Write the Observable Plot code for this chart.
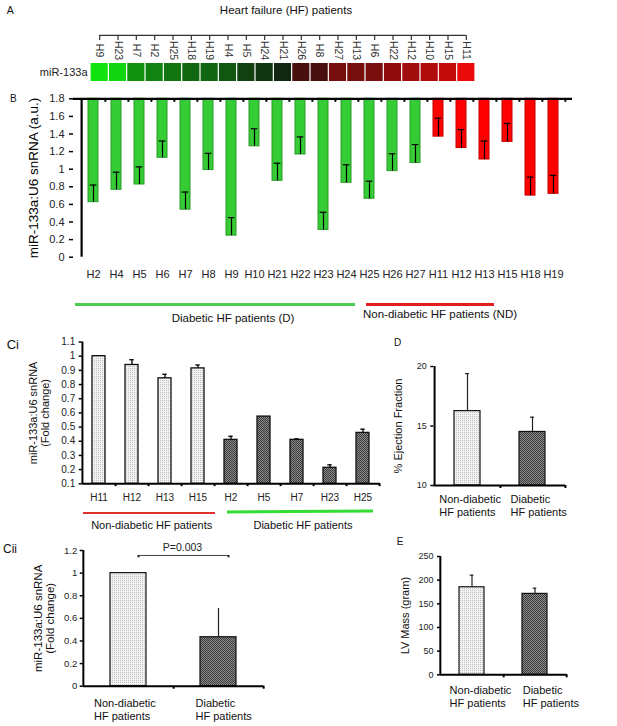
<!DOCTYPE html>
<html><head><meta charset="utf-8">
<script src="https://cdn.jsdelivr.net/npm/d3@7"></script>
<script src="https://cdn.jsdelivr.net/npm/@observablehq/plot@0.6"></script>
<style>
body{margin:0;background:#fff;}
#wrap{position:relative;width:617px;height:726px;overflow:hidden;font-family:'Liberation Sans',Arial,sans-serif;color:#111;background:#fff;}
.t{position:absolute;line-height:1;white-space:nowrap;}
.ln{position:absolute;}
</style></head><body>
<svg width="0" height="0" style="position:absolute">
<defs>
<pattern id="patLight" width="2" height="2" patternUnits="userSpaceOnUse"><rect width="2" height="2" fill="#f2f2f2"/><rect width="1" height="1" fill="#c2c2c2"/></pattern>
<pattern id="patDark" width="2" height="2" patternUnits="userSpaceOnUse"><rect width="2" height="2" fill="#8c8c8c"/><rect width="1" height="1" fill="#3a3a3a"/><rect x="1" y="1" width="1" height="1" fill="#3a3a3a"/></pattern>
</defs></svg>
<div id="wrap"></div>
<script>
// ---------- DATA ----------
const heatTitle = "Heart failure (HF) patients";
const heatRowLabel = "miR-133a";
const heatIds = ["H9","H23","H7","H2","H25","H18","H19","H4","H5","H24","H21","H26","H8","H27","H13","H6","H22","H12","H10","H15","H11"];
const heatValues = [-0.94,-0.88,-0.58,-0.51,-0.45,-0.39,-0.38,-0.31,-0.21,-0.16,-0.1,0.23,0.23,0.42,0.43,0.44,0.53,0.6,0.67,0.75,0.91];

const bTitle = "miR-133a:U6 snRNA (a.u.)";
const bIds = ["H2","H4","H5","H6","H7","H8","H9","H10","H21","H22","H23","H24","H25","H26","H27","H11","H12","H13","H15","H18","H19"];
const bValues = [0.625,0.766,0.826,1.13,0.54,0.99,0.245,1.26,0.868,1.167,0.31,0.845,0.664,0.978,1.07,1.37,1.24,1.11,1.31,0.70,0.72];
const bErrors = [0.195,0.2,0.2,0.19,0.2,0.19,0.205,0.2,0.2,0.2,0.2,0.205,0.2,0.197,0.21,0.21,0.21,0.21,0.21,0.21,0.21];
const bGroups = ["D","D","D","D","D","D","D","D","D","D","D","D","D","D","D","ND","ND","ND","ND","ND","ND"];
const bTicks = [0,0.2,0.4,0.6,0.8,1,1.2,1.4,1.6,1.8];
const bGroupText = ["Diabetic HF patients (D)", "Non-diabetic HF patients (ND)"];

const cTitle = "miR-133a:U6 snRNA\n(Fold change)";
const ciIds = ["H11","H12","H13","H15","H2","H5","H7","H23","H25"];
const ciValues = [1.0,0.938,0.844,0.914,0.41,0.574,0.41,0.213,0.459];
const ciErrors = [0,0.037,0.028,0.024,0.025,0,0.007,0.021,0.026];
const ciGroups = ["ND","ND","ND","ND","D","D","D","D","D"];
const ciTicks = [0.1,0.2,0.3,0.4,0.5,0.6,0.7,0.8,0.9,1,1.1];
const ciGroupText = ["Non-diabetic HF patients", "Diabetic HF patients"];

const groupKeys = ["ND","D"];
const groupLabels = ["Non-diabetic\nHF patients", "Diabetic\nHF patients"];

const ciiValues = [1.0, 0.433];
const ciiErrors = [0, 0.254];
const ciiTicks = [0,0.2,0.4,0.6,0.8,1,1.2];
const pLabel = "P=0.003";

const efTitle = "% Ejection Fraction";
const efValues = [16.25, 14.5];
const efErrors = [3.15, 1.24];
const efTicks = [10,15,20];

const lvTitle = "LV Mass (gram)";
const lvValues = [185, 171];
const lvErrors = [25.5, 12];
const lvTicks = [0,50,100,150,200,250];

// ---------- HELPERS ----------
const wrap = document.getElementById("wrap");
const FONT = "'Liberation Sans', Arial, sans-serif";
const baseStyle = {fontFamily: FONT, background: "transparent", color: "#222", overflow: "visible"};
function place(svg, left, top) {
  svg.style.position = "absolute"; svg.style.left = left + "px"; svg.style.top = top + "px";
  wrap.appendChild(svg);
}
function txt(s, left, top, size, center) {
  const d = document.createElement("div"); d.className = "t"; d.textContent = s;
  d.style.left = left + "px"; d.style.top = top + "px"; d.style.fontSize = size + "px";
  if (center) d.style.transform = "translateX(-50%)";
  wrap.appendChild(d);
}
function hline(left, top, width, h, color, rot) {
  const d = document.createElement("div"); d.className = "ln";
  Object.assign(d.style, {left: left + "px", top: top + "px", width: width + "px", height: h + "px", background: color});
  if (rot) d.style.transform = `rotate(${rot}deg)`;
  wrap.appendChild(d);
}

// ---------- PANEL A : heatmap ----------
const heatData = heatIds.map((id, i) => ({id, i, v: heatValues[i]}));
place(Plot.plot({
  width: 617, height: 90, margin: 0,
  x: {domain: [0, heatIds.length], range: [90, 475], axis: null},
  y: {domain: [0, 1], range: [81, 63], axis: null},
  color: {type: "linear", domain: [-1, 0, 1], range: ["#10f010", "#111111", "#ff0a0a"]},
  style: baseStyle,
  marks: [
    Plot.rect(heatData, {x1: "i", x2: d => d.i + 1, y1: 0, y2: 1, fill: "v", insetLeft: 0.6, insetRight: 0.6}),
    Plot.text(heatData, {x: d => d.i + 0.5, y: 1.72, text: "id", rotate: 90, fontSize: 10.5, fill: "#333"}),
    Plot.ruleX(heatData, {x: d => d.i + 0.5, y1: 2.28, y2: 2.56, stroke: "#333", strokeWidth: 1.2}),
    Plot.ruleY([2.56], {x1: 0.5, x2: heatIds.length - 0.5, stroke: "#333", strokeWidth: 1.2}),
    Plot.text([heatRowLabel], {x: 0, y: 0.5, textAnchor: "end", dx: -3, fontSize: 11, fill: "#222"})
  ]
}), 0, 0);
txt("A", 6.7, 4.6, 10.5);
txt(heatTitle, 286, 4.5, 11.5, true);

// ---------- PANEL B ----------
const bCfg = {W: 617, H: 245, mL: 73, mR: 45, mT: 13.3, mB: 73.3};
const bStep = (bCfg.W - bCfg.mL - bCfg.mR) / bIds.length;
const bData = bIds.map((id, i) => ({id, v: bValues[i], e: bErrors[i], g: bGroups[i]}));
place(Plot.plot({
  width: bCfg.W, height: bCfg.H, marginLeft: bCfg.mL, marginRight: bCfg.mR, marginTop: bCfg.mT, marginBottom: bCfg.mB,
  x: {domain: bIds, paddingInner: 0.58, paddingOuter: 0.29},
  y: {domain: [0, 1.8]},
  style: baseStyle,
  marks: [
    Plot.barY(bData.filter(d => d.g === "D"), {x: "id", y1: 1.8, y2: "v", fill: "#35cc35", stroke: "#2a9a2a", strokeWidth: 1}),
    Plot.barY(bData.filter(d => d.g === "ND"), {x: "id", y1: 1.8, y2: "v", fill: "#ff0000", stroke: "#c40000", strokeWidth: 1}),
    Plot.ruleX(bData, {x: "id", y1: "v", y2: d => d.v + d.e, stroke: "#000", strokeWidth: 1.2}),
    Plot.tickY(bData, {x: "id", y: d => d.v + d.e, insetLeft: 1.7, insetRight: 1.7, stroke: "#000", strokeWidth: 1.2}),
    Plot.ruleY([1.8], {stroke: "#000", strokeWidth: 2.2}),
    Plot.ruleX(bIds, {x: d => d, dx: bStep / 2, y1: 1.8, y2: 1.76, stroke: "#000", strokeWidth: 2}),
    Plot.ruleX([bIds[0]], {x: d => d, dx: -bStep / 2, y1: 0, y2: 1.8, stroke: "#000", strokeWidth: 2.2}),
    Plot.axisY({ticks: bTicks, tickFormat: d => String(d), tickSize: 4, tickPadding: 5, fontSize: 11, label: null, stroke: "#000", strokeWidth: 1.5}),
    Plot.axisX({anchor: "bottom", tickSize: 0, tickPadding: 13, fontSize: 11, label: null}),
    Plot.text([bTitle], {frameAnchor: "left", textAnchor: "middle", lineAnchor: "middle", dx: -40, rotate: -90, fontSize: 13.5, fill: "#000"})
  ]
}), 0, 85);
txt("B", 10, 93.7, 10);
hline(75, 303, 280, 3, "#4ccc4c");
hline(366, 303, 128, 3, "#e02020");
txt(bGroupText[0], 233, 312.5, 11.5, true);
txt(bGroupText[1], 363, 308.5, 11.5);

// ---------- PANEL Ci ----------
const ciCfg = {W: 400, H: 200, mL: 81.7, mR: 20, mT: 11.5, mB: 46.7};
const ciStep = (ciCfg.W - ciCfg.mL - ciCfg.mR) / ciIds.length;
const ciData = ciIds.map((id, i) => ({id, v: ciValues[i], e: ciErrors[i], g: ciGroups[i]}));
place(Plot.plot({
  width: ciCfg.W, height: ciCfg.H, marginLeft: ciCfg.mL, marginRight: ciCfg.mR, marginTop: ciCfg.mT, marginBottom: ciCfg.mB,
  x: {domain: ciIds, paddingInner: 0.6, paddingOuter: 0.3},
  y: {domain: [0.1, 1.1]},
  style: baseStyle,
  marks: [
    Plot.barY(ciData.filter(d => d.g === "ND"), {x: "id", y1: 0.1, y2: "v", fill: "url(#patLight)", stroke: "#111", strokeWidth: 1.3}),
    Plot.barY(ciData.filter(d => d.g === "D"), {x: "id", y1: 0.1, y2: "v", fill: "url(#patDark)", stroke: "#111", strokeWidth: 1.3}),
    Plot.ruleX(ciData.filter(d => d.e > 0), {x: "id", y1: "v", y2: d => d.v + d.e, stroke: "#111", strokeWidth: 1.4}),
    Plot.tickY(ciData.filter(d => d.e > 0), {x: "id", y: d => d.v + d.e, insetLeft: 4.3, insetRight: 4.3, stroke: "#111", strokeWidth: 1.4}),
    Plot.ruleY([0.1], {stroke: "#000", strokeWidth: 2}),
    Plot.ruleX(ciIds, {x: d => d, dx: ciStep / 2, y1: 0.1, y2: 0.08, stroke: "#000", strokeWidth: 2}),
    Plot.ruleX([ciIds[0]], {x: d => d, dx: -ciStep / 2, y1: 0.1, y2: 1.1, stroke: "#000", strokeWidth: 2}),
    Plot.axisY({ticks: ciTicks, tickFormat: d => String(d), tickSize: 3, tickPadding: 4, fontSize: 10, label: null, stroke: "#000", strokeWidth: 1.5}),
    Plot.axisX({anchor: "bottom", tickSize: 0, tickPadding: 10.5, fontSize: 10, label: null}),
    Plot.text([cTitle], {frameAnchor: "left", textAnchor: "middle", lineAnchor: "middle", dx: -42.7, rotate: -90, fontSize: 11, lineHeight: 1.09, fill: "#111"})
  ]
}), 0, 330);
txt("Ci", 6.7, 338.3, 13);
hline(82.7, 511.5, 132.3, 2.5, "#e03030");
hline(226.7, 510.2, 146, 2.5, "#33dd33", -0.3);
txt(ciGroupText[0], 151.7, 519.5, 11, true);
txt(ciGroupText[1], 303, 519.5, 11, true);

// ---------- two-group panels ----------
function groupPanel(cfg) {
  const data = groupKeys.map((g, i) => ({g, v: cfg.values[i], e: cfg.errors[i]}));
  const step = (cfg.W - cfg.mL - cfg.mR) / groupKeys.length;
  const [y0, y1] = cfg.yDomain;
  const tickLen = (y1 - y0) * 3 / (cfg.H - cfg.mT - cfg.mB);
  const marks = [
    Plot.barY(data.filter(d => d.g === "ND"), {x: "g", y1: y0, y2: "v", fill: "url(#patLight)", stroke: "#111", strokeWidth: 1.2}),
    Plot.barY(data.filter(d => d.g === "D"), {x: "g", y1: y0, y2: "v", fill: "url(#patDark)", stroke: "#111", strokeWidth: 1.2}),
    Plot.ruleX(data.filter(d => d.e > 0), {x: "g", y1: "v", y2: d => d.v + d.e, stroke: "#222", strokeWidth: 1.2}),
    Plot.tickY(data.filter(d => d.e > 0), {x: "g", y: d => d.v + d.e, insetLeft: cfg.cap, insetRight: cfg.cap, stroke: "#222", strokeWidth: 1.2}),
    Plot.ruleY([y0], {stroke: "#000", strokeWidth: 2}),
    Plot.ruleX(groupKeys, {x: d => d, dx: step / 2, y1: y0, y2: y0 - tickLen, stroke: "#000", strokeWidth: 2}),
    Plot.ruleX([groupKeys[0]], {x: d => d, dx: -step / 2, y1: y0, y2: y1, stroke: "#000", strokeWidth: 2}),
    Plot.axisY({ticks: cfg.ticks, tickFormat: d => String(d), tickSize: 3, tickPadding: cfg.tickPad, fontSize: cfg.tickFont, label: null, stroke: "#000", strokeWidth: 1.5}),
    Plot.text([{g: "ND", t: groupLabels[0]}], {x: "g", text: "t", frameAnchor: "bottom", textAnchor: "start", lineAnchor: "top", dx: cfg.labelDx[0], dy: cfg.labelDy, fontSize: 11, lineHeight: cfg.lh, fill: "#111"}),
    Plot.text([{g: "D", t: groupLabels[1]}], {x: "g", text: "t", frameAnchor: "bottom", textAnchor: "start", lineAnchor: "top", dx: cfg.labelDx[1], dy: cfg.labelDy, fontSize: 11, lineHeight: cfg.lh, fill: "#111"}),
    Plot.text([cfg.title], {frameAnchor: "left", textAnchor: "middle", lineAnchor: "middle", dx: cfg.titleDx, rotate: -90, fontSize: cfg.titleSize, lineHeight: cfg.titleLH || 1.1, fill: "#111"}),
    ...(cfg.extra ? cfg.extra(data) : [])
  ];
  place(Plot.plot({
    width: cfg.W, height: cfg.H, marginLeft: cfg.mL, marginRight: cfg.mR, marginTop: cfg.mT, marginBottom: cfg.mB,
    x: {domain: groupKeys, paddingInner: 0.6, paddingOuter: 0.3, axis: null},
    y: {domain: cfg.yDomain},
    style: baseStyle,
    marks
  }), cfg.left, cfg.top);
}

// Panel D
groupPanel({left: 380, top: 330, W: 237, H: 200, mL: 53.3, mR: 52, mT: 36, mB: 45,
  values: efValues, errors: efErrors, yDomain: [10, 20], ticks: efTicks, tickFont: 9, tickPad: 4,
  cap: 11, labelDx: [-28.3, -22], labelDy: 8, lh: 1.22, title: efTitle, titleDx: -35.3, titleSize: 11});
txt("D", 394, 338, 10);

// Panel Cii
groupPanel({left: 0, top: 540, W: 380, H: 186, mL: 82.7, mR: 116.7, mT: 10, mB: 40.3,
  values: ciiValues, errors: ciiErrors, yDomain: [0, 1.2], ticks: ciiTicks, tickFont: 9.5, tickPad: 3,
  cap: 18, labelDx: [-34.5, -23], labelDy: 12, lh: 1.15, title: cTitle, titleDx: -38.7, titleSize: 11.5, titleLH: 1.05,
  extra: () => [
    Plot.line(groupKeys, {x: d => d, y: () => 1.156, dx: 10, stroke: "#444", strokeWidth: 1}),
    Plot.ruleX(groupKeys, {x: d => d, y1: 1.156, y2: 1.135, dx: 10, stroke: "#222", strokeWidth: 2}),
    Plot.text([pLabel], {frameAnchor: "top", textAnchor: "middle", lineAnchor: "middle", dx: 9, dy: -2.7, fontSize: 10.5, fill: "#222"})
  ]});
txt("Cii", 3, 542.5, 12);

// Panel E
groupPanel({left: 380, top: 540, W: 237, H: 186, mL: 60, mR: 50.3, mT: 16, mB: 51.7,
  values: lvValues, errors: lvErrors, yDomain: [0, 250], ticks: lvTicks, tickFont: 9, tickPad: 4,
  cap: 10.7, labelDx: [-22.4, -12.3], labelDy: 10, lh: 1.2, title: lvTitle, titleDx: -35, titleSize: 11});
txt("E", 396.7, 536.7, 10);
</script></body></html>
